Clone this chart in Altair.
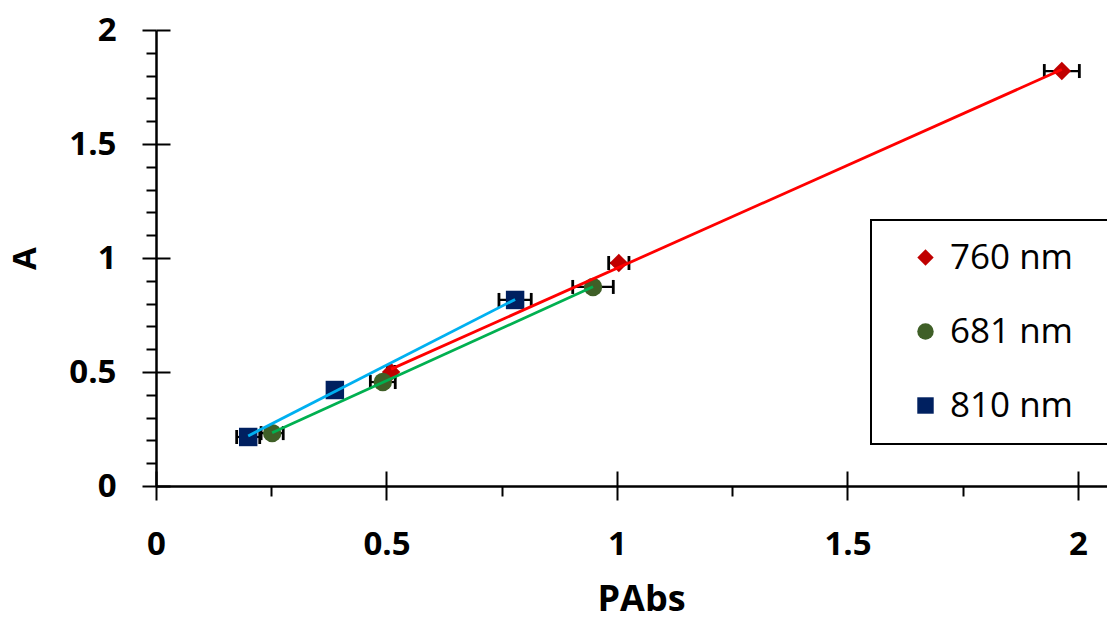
import altair as alt
import pandas as pd

# ---- data ----
series = ["760 nm", "681 nm", "810 nm"]

x_760 = [0.510, 1.004, 1.965]
y_760 = [0.500, 0.978, 1.820]
e_760 = [0.008, 0.022, 0.038]

x_681 = [0.252, 0.492, 0.948]
y_681 = [0.232, 0.456, 0.873]
e_681 = [0.024, 0.027, 0.044]

x_810 = [0.200, 0.388, 0.779]
y_810 = [0.215, 0.421, 0.816]
e_810 = [0.025, 0.008, 0.035]

x_major = [0, 0.5, 1, 1.5, 2]
x_minor = [0.25, 0.75, 1.25, 1.75]
y_major = [0, 0.5, 1, 1.5, 2]
y_minor = [0.1, 0.2, 0.3, 0.4, 0.6, 0.7, 0.8, 0.9,
           1.1, 1.2, 1.3, 1.4, 1.6, 1.7, 1.8, 1.9]

marker_colors = ["#C00000", "#3F5F27", "#002060"]
line_colors = ["#FF0000", "#00B050", "#00B0F0"]
shapes = ["diamond", "circle", "square"]

rows = []
for name, xs_, ys_, es_ in [("760 nm", x_760, y_760, e_760),
                            ("681 nm", x_681, y_681, e_681),
                            ("810 nm", x_810, y_810, e_810)]:
    for xv, yv, ev in zip(xs_, ys_, es_):
        rows.append({"series": name, "x": xv, "y": yv,
                     "lo": xv - ev, "hi": xv + ev})
df = pd.DataFrame(rows)

W, H = 951, 456
FONT = "Open Sans"
# short blank filler so the legend frame runs past the right edge (as in the reference)
FILL = "\u00a0" + "\u2800"

xs = alt.Scale(domain=[0, 2.063], nice=False, zero=False)
ys = alt.Scale(domain=[0, 2], nice=False, zero=False)

base = alt.Chart(df)

legend = alt.Legend(
    orient="none", legendX=715, legendY=190, title=None,
    strokeColor="black", padding=20, symbolOffset=17, labelOffset=7,
    labelFont=FONT, labelFontSize=35, labelColor="black", labelLimit=900,
    labelExpr="datum.label + '" + FILL + "'",
    symbolSize=270, symbolStrokeWidth=0, rowPadding=38,
)

x_main_axis = alt.Axis(
    orient="bottom", values=x_major, tickSize=14, labelFlush=False,
    labelFontSize=33, labelFontWeight="bold", labelFont=FONT, labelPadding=28,
    labelColor="black", format="~g",
    title="PAbs", titleFont=FONT, titleFontSize=36, titleFontWeight="bold",
    titleColor="black", titleX=485, titleY=124, titleBaseline="alphabetic",
    titleAlign="center", grid=False,
)
y_main_axis = alt.Axis(
    orient="left", values=y_major, tickSize=14,
    labelFontSize=33, labelFontWeight="bold", labelFont=FONT, labelPadding=26,
    labelColor="black", format="~g",
    title="A", titleFont=FONT, titleFontSize=33, titleFontWeight="bold",
    titleColor="black", titleX=-121, titleY=228, titleAngle=270,
    titleBaseline="alphabetic", titleAlign="center", grid=False,
)

points = base.mark_point(filled=True, opacity=1, size=340, strokeWidth=0).encode(
    x=alt.X("x:Q", scale=xs, axis=x_main_axis),
    y=alt.Y("y:Q", scale=ys, axis=y_main_axis),
    color=alt.Color("series:N", scale=alt.Scale(domain=series, range=marker_colors), legend=legend),
    shape=alt.Shape("series:N", scale=alt.Scale(domain=series, range=shapes), legend=legend),
)

err_rule = base.mark_rule(color="black", strokeWidth=2.2).encode(
    x=alt.X("lo:Q", scale=xs, axis=None),
    x2="hi:Q",
    y=alt.Y("y:Q", scale=ys, axis=None),
)
err_caps = base.transform_fold(["lo", "hi"], as_=["side", "xe"]).mark_tick(
    color="black", orient="vertical", size=14, thickness=2.8, opacity=1
).encode(
    x=alt.X("xe:Q", scale=xs, axis=None),
    y=alt.Y("y:Q", scale=ys, axis=None),
)

trend = base.transform_regression("x", "y", groupby=["series"]).mark_line(strokeWidth=2.8).encode(
    x=alt.X("x:Q", scale=xs, axis=None),
    y=alt.Y("y:Q", scale=ys, axis=None),
    stroke=alt.Stroke("series:N", scale=alt.Scale(domain=series, range=line_colors), legend=None),
)

minor = base.mark_point(opacity=0).encode(
    x=alt.X("x:Q", scale=xs, axis=alt.Axis(orient="bottom", values=x_minor, labels=False,
                                           domain=False, tickSize=10, title=None, grid=False)),
    y=alt.Y("y:Q", scale=ys, axis=alt.Axis(orient="left", values=y_minor, labels=False,
                                           domain=False, tickSize=10, title=None, grid=False)),
)

inner = base.mark_point(opacity=0).encode(
    x=alt.X("x:Q", scale=xs, axis=alt.Axis(orient="top", offset=-H, values=x_major, labels=False,
                                           domain=False, tickSize=15, title=None, grid=False)),
    y=alt.Y("y:Q", scale=ys, axis=alt.Axis(orient="right", offset=-W, values=y_major, labels=False,
                                           domain=False, tickSize=14, title=None, grid=False)),
)

chart = alt.layer(minor, inner, err_rule, err_caps, points, trend).resolve_axis(
    x="independent", y="independent"
).properties(
    width=W, height=H,
    autosize=alt.AutoSizeParams(type="none"),
    padding={"left": 148, "top": 22, "right": 0, "bottom": 134},
    background="white",
).configure_view(stroke=None).configure_axis(
    domainColor="black", domainWidth=2.5, tickColor="black", tickWidth=2,
).configure_legend(strokeWidth=2)

chart.save("out.html", embed_options={"renderer": "svg", "actions": False})
